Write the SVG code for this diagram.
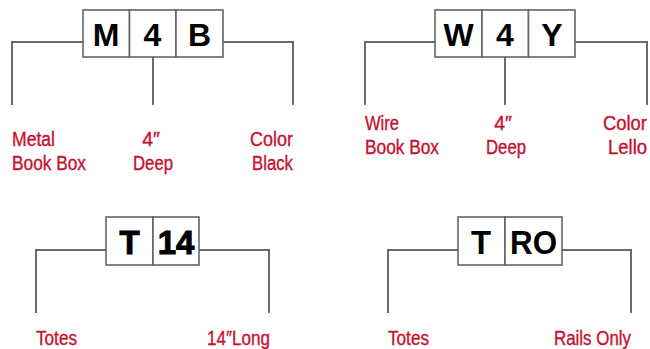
<svg xmlns="http://www.w3.org/2000/svg" width="650" height="349" viewBox="0 0 650 349">
<style>
.box{fill:#fff;stroke:#646464;stroke-width:1.6}
.code{font-family:"Liberation Sans",Arial,sans-serif;font-weight:bold;font-size:32px;fill:#000;text-anchor:middle}
.code2{font-family:"Liberation Sans",Arial,sans-serif;font-weight:bold;font-size:33px;fill:#000;text-anchor:middle}
.heavy{stroke:#000;stroke-width:1}
.lbl{font-family:"Liberation Sans",Arial,sans-serif;font-size:19.5px;fill:#c8102e;stroke:#c8102e;stroke-width:0.35}
.c{text-anchor:middle}
.r{text-anchor:end}
.conn{fill:none;stroke:#6a6a6a;stroke-width:2}
</style>
<rect width="650" height="349" fill="#fff"/>
<g id="connectors">
<polyline class="conn" points="83,42 12,42 12,105"/>
<line class="conn" x1="153" y1="57" x2="153" y2="105"/>
<polyline class="conn" points="223,42 293,42 293,105"/>
<polyline class="conn" points="435,42 365,42 365,105"/>
<line class="conn" x1="505" y1="57" x2="505" y2="105"/>
<polyline class="conn" points="575,42 647,42 647,105"/>
<polyline class="conn" points="106,250 36,250 36,313"/>
<polyline class="conn" points="199,250 269,250 269,313"/>
<polyline class="conn" points="458,250 388,250 388,313"/>
<polyline class="conn" points="562,250 631,250 631,313"/>
</g>
<g id="node-m4b">
<rect class="box" x="83" y="10" width="46.5" height="47"/>
<rect class="box" x="129.5" y="10" width="46.5" height="47"/>
<rect class="box" x="176" y="10" width="47" height="47"/>
<text class="code" x="106" y="46">M</text>
<text class="code" x="152.5" y="46">4</text>
<text class="code" x="199.5" y="46">B</text>
</g>
<g id="node-w4y">
<rect class="box" x="435" y="10" width="47" height="47"/>
<rect class="box" x="482" y="10" width="46.5" height="47"/>
<rect class="box" x="528.5" y="10" width="46.5" height="47"/>
<text class="code" x="458.5" y="46">W</text>
<text class="code" x="505" y="46">4</text>
<text class="code" x="552" y="46">Y</text>
</g>
<g id="node-t14">
<rect class="box" x="106" y="217" width="47" height="48"/>
<rect class="box" x="153" y="217" width="46" height="48"/>
<text class="code2 heavy" x="129.5" y="254">T</text>
<text class="code2 heavy" x="176" y="254">14</text>
</g>
<g id="node-tro">
<rect class="box" x="458" y="217" width="47" height="48"/>
<rect class="box" x="505" y="217" width="57" height="48"/>
<text class="code2" x="481" y="254">T</text>
<text class="code2" x="533.5" y="254" textLength="47" lengthAdjust="spacingAndGlyphs">RO</text>
</g>
<g id="labels">
<text class="lbl" x="12" y="146" textLength="43" lengthAdjust="spacingAndGlyphs">Metal</text>
<text class="lbl" x="12" y="170" textLength="74" lengthAdjust="spacingAndGlyphs">Book Box</text>
<text class="lbl c" x="151" y="146">4″</text>
<text class="lbl c" x="153" y="170" textLength="40" lengthAdjust="spacingAndGlyphs">Deep</text>
<text class="lbl r" x="293" y="146" textLength="43" lengthAdjust="spacingAndGlyphs">Color</text>
<text class="lbl r" x="293" y="170" textLength="41" lengthAdjust="spacingAndGlyphs">Black</text>
<text class="lbl" x="365" y="130" textLength="34" lengthAdjust="spacingAndGlyphs">Wire</text>
<text class="lbl" x="365" y="154" textLength="74" lengthAdjust="spacingAndGlyphs">Book Box</text>
<text class="lbl c" x="503" y="130">4″</text>
<text class="lbl c" x="506" y="154" textLength="40" lengthAdjust="spacingAndGlyphs">Deep</text>
<text class="lbl r" x="647" y="130" textLength="44" lengthAdjust="spacingAndGlyphs">Color</text>
<text class="lbl r" x="647" y="154" textLength="39" lengthAdjust="spacingAndGlyphs">Lello</text>
<text class="lbl" x="36" y="345" textLength="41" lengthAdjust="spacingAndGlyphs">Totes</text>
<text class="lbl r" x="270" y="345" textLength="63" lengthAdjust="spacingAndGlyphs">14″Long</text>
<text class="lbl" x="388" y="345" textLength="41" lengthAdjust="spacingAndGlyphs">Totes</text>
<text class="lbl r" x="631" y="345" textLength="77" lengthAdjust="spacingAndGlyphs">Rails Only</text>
</g>
</svg>
